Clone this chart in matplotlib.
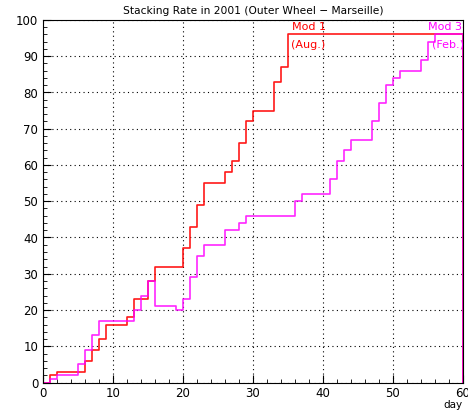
import matplotlib
matplotlib.use('Agg')
import matplotlib.pyplot as plt
from matplotlib.ticker import MultipleLocator

# Mod 1 (Aug.) - cumulative stacked, step at each day
mod1_day = [0, 1, 2, 6, 7, 8, 9, 12, 13, 15, 16, 20, 21, 22, 23, 26, 27,
            28, 29, 30, 33, 34, 35, 60]
mod1_val = [0, 2, 3, 6, 9, 12, 16, 18, 23, 28, 32, 37, 43, 49, 55, 58, 61,
            66, 72, 75, 83, 87, 96, 0]

# Mod 3 (Feb.)
mod3_day = [0, 1, 2, 5, 6, 7, 8, 13, 14, 15, 16, 19, 20, 21, 22, 23, 26, 28,
            29, 36, 37, 41, 42, 43, 44, 47, 48, 49, 50, 51, 54, 55, 56, 60]
mod3_val = [0, 1, 2, 5, 9, 13, 17, 20, 24, 28, 21, 20, 23, 29, 35, 38, 42, 44,
            46, 50, 52, 56, 61, 64, 67, 72, 77, 82, 84, 86, 89, 94, 96, 0]

plt.rcParams['font.family'] = 'DejaVu Sans'

fig = plt.figure(figsize=(4.68, 4.11), dpi=100)
ax = fig.add_axes([43 / 468, 28.5 / 411, 420 / 468, 362.5 / 411])

ax.step(mod1_day, mod1_val, where='post', color='#ff0000', lw=1.2, alpha=0.9)
ax.step(mod3_day, mod3_val, where='post', color='#ff00ff', lw=1.2, alpha=0.85)

ax.set_xlim(0, 60)
ax.set_ylim(0, 100)
ax.xaxis.set_major_locator(MultipleLocator(10))
ax.xaxis.set_minor_locator(MultipleLocator(2))
ax.yaxis.set_major_locator(MultipleLocator(10))
ax.yaxis.set_minor_locator(MultipleLocator(2))
ax.tick_params(which='both', direction='in', top=False, right=False,
               labelsize=8.5, color='black')
ax.tick_params(which='major', length=6)
ax.tick_params(which='minor', length=3)
ax.grid(True, which='major', color='black', linestyle=(0, (1, 3)), lw=0.8)

ax.set_title('Stacking Rate in 2001 (Outer Wheel \u2212 Marseille)',
             fontsize=7.7, pad=4)
fig.text(463 / 468, 1 / 411, 'day', ha='right', va='bottom', fontsize=7.5)

ax.text(35.5, 98.2, 'Mod 1', color='#ff0000', fontsize=8, va='center')
ax.text(35.5, 93.2, '(Aug.)', color='#ff0000', fontsize=8, va='center')
ax.text(59.8, 98.2, 'Mod 3', color='#ff00ff', fontsize=8, va='center', ha='right')
ax.text(55.6, 93.2, '(Feb.)', color='#ff00ff', fontsize=8, va='center')

fig.savefig('out.png', dpi=100)
